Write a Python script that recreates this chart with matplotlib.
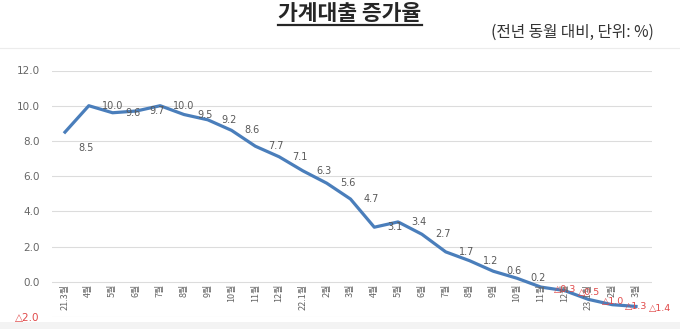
import matplotlib
matplotlib.use("Agg")
import matplotlib.pyplot as plt
from matplotlib.lines import Line2D
from matplotlib.patches import Rectangle

plt.rcParams['font.family'] = ['Noto Sans CJK KR', 'DejaVu Sans']

categories = ["21.3월", "4월", "5월", "6월", "7월", "8월", "9월", "10월", "11월", "12월",
              "22.1월", "2월", "3월", "4월", "5월", "6월", "7월", "8월", "9월", "10월",
              "11월", "12월", "23.1월", "2월", "3월"]
values = [8.5, 10.0, 9.6, 9.7, 10.0, 9.5, 9.2, 8.6, 7.7, 7.1,
          6.3, 5.6, 4.7, 3.1, 3.4, 2.7, 1.7, 1.2, 0.6, 0.2,
          -0.3, -0.5, -1.0, -1.3, -1.4]
yticks = [-2, 0, 2, 4, 6, 8, 10, 12]

title = "가계대출 증가율"
subtitle = "(전년 동월 대비, 단위: %)"

line_color = "#4a7ebb"
red = "#e04848"
grey = "#595959"
num_font = ['DejaVu Sans']

def fmt(v):
    return ("△%.1f" % abs(v)) if v < 0 else ("%.1f" % v)

W, H = 680, 329
fig = plt.figure(figsize=(6.8, 3.29), dpi=100)

# faint chart-area frame
fig.add_artist(Line2D([0, 1], [1 - 48/H, 1 - 48/H], color='#ececec', lw=0.8, zorder=-5))
fig.add_artist(Rectangle((0, 0), 1, 7/H, transform=fig.transFigure,
                         facecolor='#f3f3f3', edgecolor='none', zorder=-5))

ax = fig.add_axes([52/W, 1 - 317/H, 600/W, (317 - 70.5)/H])
ax.patch.set_alpha(0)

x = list(range(len(categories)))
ax.plot(x, values, color=line_color, lw=2.3, solid_joinstyle='round', zorder=3)

ax.set_xlim(-13/23.8, len(categories) - 1 + 16/23.8)
ax.set_ylim(-2, 12)
ax.set_yticks(yticks)
ax.set_yticklabels([fmt(v) for v in yticks], fontsize=7.5, family=num_font)
for t, v in zip(ax.get_yticklabels(), yticks):
    t.set_color(red if v < 0 else '#666666')
ax.tick_params(axis='y', length=0, pad=9)
ax.set_xticks([])
ax.grid(axis='y', color='#dcdcdc', lw=0.8)
for s in ax.spines.values():
    s.set_visible(False)

# category labels under the zero line
for i, c in enumerate(categories):
    ax.text(i, -0.12, c, rotation=90, ha='center', va='top', fontsize=6.5,
            color='#666666')

# data labels (left-aligned, to the right of each point)
for i, v in enumerate(values):
    dy = -11.5 if i == 0 else (-1.5 if v < 0 else 0)
    ax.annotate(fmt(v), (i, v), xytext=(9.5, dy), textcoords='offset points',
                ha='left', va='center', fontsize=7 if v >= 0 else 6.8,
                family=num_font, color=red if v < 0 else grey,
                annotation_clip=False)

fig.text(350/W, 1 - 13/H, title, ha='center', va='center', fontsize=15.5,
         fontweight='bold', color='#262626')
fig.add_artist(Line2D([278/W, 422/W], [1 - 25/H, 1 - 25/H],
                      color='#262626', lw=1.6))
fig.text(654/W, 1 - 32/H, subtitle, ha='right', va='center', fontsize=11.3,
         color='#333333')

fig.savefig("out.png", dpi=100)
